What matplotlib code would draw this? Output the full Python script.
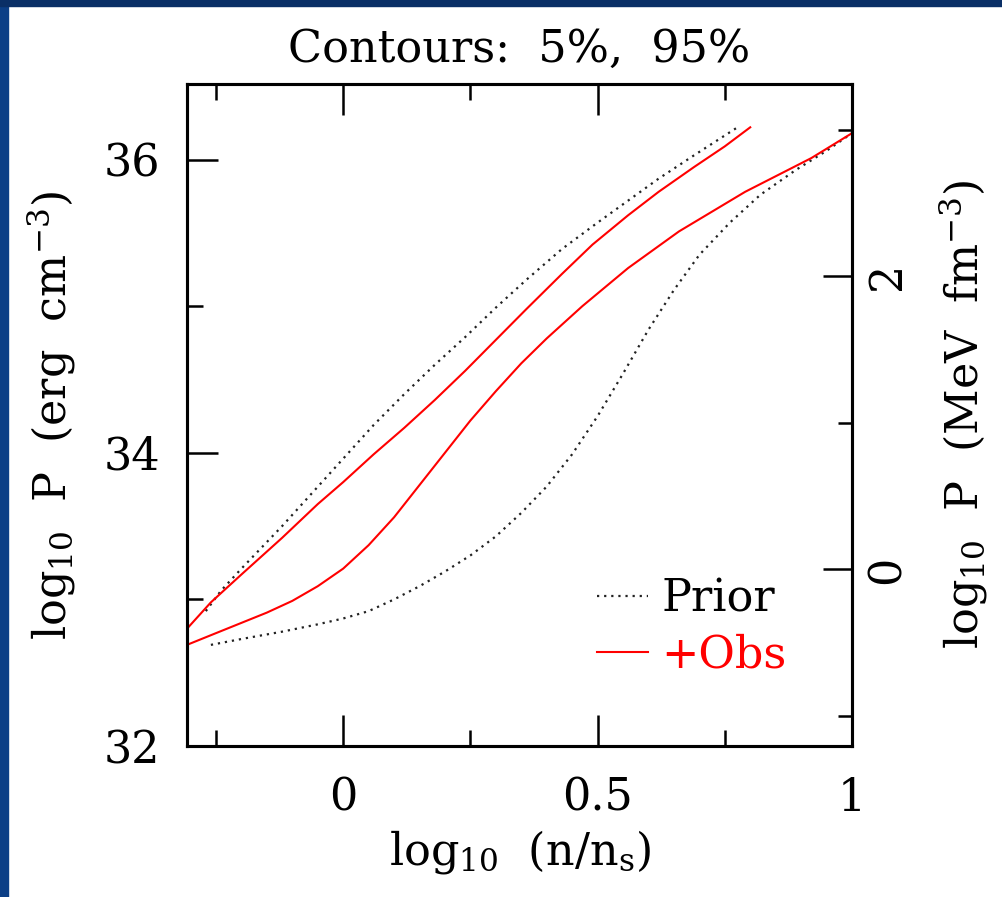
import numpy as np
import matplotlib
matplotlib.use('Agg')
import matplotlib.pyplot as plt
from matplotlib.patches import Rectangle
from matplotlib.ticker import FixedLocator

plt.rcParams['font.family'] = ['DejaVu Serif']
plt.rcParams['mathtext.default'] = 'regular'

# 5% / 95% contours: x = log10(n/ns), y = log10 P [erg cm^-3]
prior_up_x = [-0.27, -0.24, -0.20, -0.12, -0.06, 0.0, 0.06, 0.12, 0.18, 0.24,
              0.30, 0.36, 0.43, 0.50, 0.56, 0.62, 0.69, 0.775]
prior_up_y = [32.92, 33.06, 33.21, 33.50, 33.73, 33.96, 34.19, 34.40, 34.60, 34.79,
              34.99, 35.18, 35.39, 35.57, 35.72, 35.87, 36.03, 36.22]

prior_lo_x = [-0.26, -0.20, -0.12, -0.05, 0.0, 0.05, 0.10, 0.15, 0.20, 0.25, 0.30,
              0.35, 0.40, 0.45, 0.50, 0.55, 0.60, 0.65, 0.70, 0.76, 0.82, 0.89, 0.95, 1.0]
prior_lo_y = [32.69, 32.73, 32.78, 32.83, 32.87, 32.92, 33.00, 33.09, 33.19, 33.30, 33.43,
              33.59, 33.77, 33.99, 34.25, 34.54, 34.84, 35.11, 35.35, 35.57, 35.76, 35.93,
              36.06, 36.18]

obs_up_x = [-0.307, -0.26, -0.20, -0.12, -0.05, 0.0, 0.06, 0.12, 0.18, 0.24, 0.30,
            0.36, 0.43, 0.49, 0.56, 0.62, 0.69, 0.75, 0.80]
obs_up_y = [32.80, 32.98, 33.17, 33.42, 33.65, 33.80, 33.99, 34.17, 34.36, 34.56, 34.77,
            34.98, 35.22, 35.42, 35.62, 35.78, 35.95, 36.09, 36.22]

obs_lo_x = [-0.307, -0.25, -0.20, -0.15, -0.10, -0.05, 0.0, 0.05, 0.10, 0.15, 0.20,
            0.25, 0.30, 0.35, 0.40, 0.47, 0.56, 0.66, 0.79, 0.92, 1.0]
obs_lo_y = [32.69, 32.77, 32.84, 32.91, 32.99, 33.09, 33.21, 33.37, 33.56, 33.78, 34.00,
            34.22, 34.42, 34.61, 34.78, 35.00, 35.26, 35.51, 35.78, 36.01, 36.18]

x_major = [0, 0.5, 1]
x_minor = [-0.25, 0.25, 0.75]
y_major = [32, 34, 36]
y_minor = [33, 35]
mev_major = [0, 2]
mev_minor = [-1, 1, 3]
erg_to_mev = np.log10(1.602177e33)  # 1 MeV fm^-3 in erg cm^-3

fig = plt.figure(figsize=(10.02, 8.97), dpi=100, facecolor='white')
# slide background strips
fig.add_artist(Rectangle((0, 0), 8 / 1002, 1, transform=fig.transFigure,
                         color='#0c3f86', zorder=0))
fig.add_artist(Rectangle((0, 1 - 6 / 897), 1, 6 / 897, transform=fig.transFigure,
                         color='#0a2f66', zorder=0))

ax = fig.add_axes([0.1866, 0.1683, 0.6637, 0.7380])
dotted = (0, (1, 2.2))
ax.plot(prior_up_x, prior_up_y, color='#222222', lw=1.6, ls=dotted, label='Prior')
ax.plot(prior_lo_x, prior_lo_y, color='#222222', lw=1.6, ls=dotted)
ax.plot(obs_up_x, obs_up_y, color='red', lw=1.5, label='+Obs')
ax.plot(obs_lo_x, obs_lo_y, color='red', lw=1.5)

ax.set_xlim(-0.307, 1.0)
ax.set_ylim(32, 36.515)

ax.xaxis.set_major_locator(FixedLocator(x_major))
ax.xaxis.set_minor_locator(FixedLocator(x_minor))
ax.yaxis.set_major_locator(FixedLocator(y_major))
ax.yaxis.set_minor_locator(FixedLocator(y_minor))
ax.set_xticklabels(['0', '0.5', '1'])
ax.set_yticklabels(['32', '34', '36'])

fs = 32
for s in ax.spines.values():
    s.set_linewidth(2.2)
ax.tick_params(which='both', direction='in', top=True, right=False, width=1.8,
               labelsize=fs)
ax.tick_params(which='major', length=22)
ax.tick_params(which='minor', length=11.5)
ax.tick_params(axis='x', pad=22)
ax.tick_params(axis='y', pad=19)

ax.set_title('Contours:  5%,  95%', fontsize=fs, pad=16)
ax.set_xlabel(r'log$_{10}$  (n/n$_s$)', fontsize=fs, labelpad=6)
ax.set_ylabel(r'log$_{10}$  P  (erg  cm$^{-3}$)', fontsize=fs, labelpad=19)

ax2 = ax.twinx()
ax2.set_ylim(32 - erg_to_mev, 36.515 - erg_to_mev)
ax2.yaxis.set_major_locator(FixedLocator(mev_major))
ax2.yaxis.set_minor_locator(FixedLocator(mev_minor))
ax2.set_yticklabels(['0', '2'])
ax2.tick_params(which='both', direction='in', width=1.8, labelsize=fs, pad=10)
ax2.tick_params(which='major', length=21)
ax2.tick_params(which='minor', length=10)
for lab in ax2.get_yticklabels():
    lab.set_rotation(90)
    lab.set_va('center')
for s in ax2.spines.values():
    s.set_linewidth(2.2)
ax2.set_ylabel(r'log$_{10}$  P  (MeV  fm$^{-3}$)', fontsize=fs, labelpad=20)

ax.legend(loc='center left', bbox_to_anchor=(0.617, 0.18), frameon=False,
          fontsize=fs, labelcolor=['black', 'red'], handlelength=1.15,
          handletextpad=0.3, labelspacing=0.3, borderpad=0, borderaxespad=0)

plt.savefig('out.png', dpi=100, facecolor='white')
